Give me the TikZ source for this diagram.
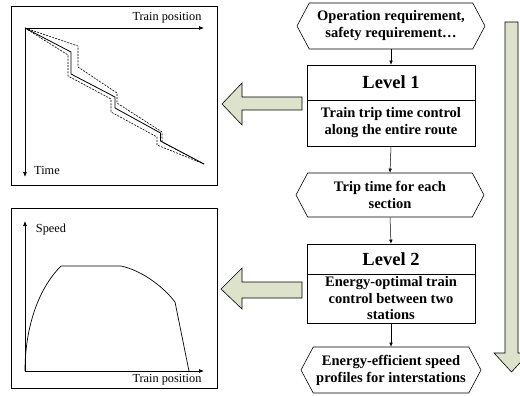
\documentclass[tikz,border=0pt]{standalone}
\usepackage{fontspec}
\setmainfont{Liberation Serif}
\usetikzlibrary{arrows.meta,shapes.symbols}
\definecolor{arrowfill}{RGB}{221,226,203}
\begin{document}
\begin{tikzpicture}[x=1pt,y=-1pt,
  hexbox/.style={draw, line width=0.6pt, signal, signal to=east and west, signal pointer angle=124,
    minimum width=188pt, minimum height=46pt, inner sep=0pt, align=center,
    font=\fontsize{14.5}{17}\selectfont\bfseries},
  lvltop/.style={draw, line width=0.6pt, minimum width=168pt, inner sep=0pt,
    font=\fontsize{18.5}{20}\selectfont\bfseries},
  lvlbot/.style={draw, line width=0.6pt, minimum width=168pt, inner sep=0pt, align=center,
    font=\fontsize{14.5}{17}\selectfont\bfseries},
  panel/.style={draw, line width=0.6pt, inner sep=0pt},
  lbl/.style={inner sep=0pt, font=\fontsize{12.3}{14}\selectfont},
  conn/.style={-{Latex[length=4pt,width=3.5pt]}, line width=0.5pt},
  axis/.style={-{Latex[length=5pt,width=4pt]}, line width=0.7pt},
  bigarrow/.style={draw, line width=0.6pt, fill=arrowfill},
  curve/.style={line width=0.8pt},
  dcurve/.style={line width=0.6pt, dash pattern=on 2pt off 1.2pt}]
\useasboundingbox (0,0) rectangle (520,396);
\begin{scope}
\clip (0,0) rectangle (520,396);
% big vertical arrow
\draw[bigarrow] (505,22) -- (518,22) -- (518,353) -- (529,353) -- (511.5,372) -- (494,353) -- (505,353) -- cycle;
\end{scope}
% flow nodes
\node[hexbox] (h1) at (391,26) {Operation requirement,\\safety requirement\ldots};
\node[lvltop, minimum height=35pt] (l1t) at (391,82.5) {Level 1};
\node[lvlbot, minimum height=46pt] (l1b) at (391,123) {Train trip time control\\along the entire route};
\node[hexbox, minimum height=44pt] (h2) at (390,195) {Trip time for each\\section};
\node[lvltop, minimum height=30pt] (l2t) at (391,259) {Level 2};
\node[lvlbot, minimum height=49pt, font=\fontsize{14.5}{16.5}\selectfont\bfseries] (l2b) at (391,298.5) {Energy-optimal train\\control between two\\stations};
\node[hexbox, minimum width=180pt] (h3) at (391,370) {Energy-efficient speed\\profiles for interstations};
\draw[conn] (h1.south) -- (l1t.north);
\draw[conn] (l1b.south) -- (h2.north);
\draw[conn] (h2.south) -- (l2t.north);
\draw[conn] (l2b.south) -- (h3.north);
% big left arrows
\draw[bigarrow] (302,97) -- (242,97) -- (242,83) -- (222,104) -- (242,125) -- (242,110) -- (302,110) -- cycle;
\draw[bigarrow] (302,282) -- (242,282) -- (242,268) -- (221,289) -- (242,309) -- (242,298) -- (302,298) -- cycle;
% panel 1
\node[panel, minimum width=206pt, minimum height=179pt] (p1) at (114,95.5) {};
\coordinate (o1) at (25,28);
\coordinate (x1) at (204,28);
\coordinate (y1) at (25,177);
\draw[axis] (o1) -- (x1);
\draw[axis] (o1) -- (y1);
\node[lbl] (tp1) at (167,18) {Train position};
\node[lbl] (tm) at (47,170) {Time};
\draw[curve] (o1) -- (71,52) -- (71,74) -- (115,97) -- (115,108) -- (160.5,133) -- (160.5,141) -- (204,164);
\draw[dcurve] (o1) -- (78,46) -- (78,67) -- (117,93) -- (117,103) -- (162,132) -- (162,142) -- (204,164);
\draw[dcurve] (o1) -- (68,55) -- (68,76) -- (111,99) -- (111,112) -- (157,137) -- (157,145) -- (204,164);
% panel 2
\node[panel, minimum width=206pt, minimum height=180pt] (p2) at (114,298) {};
\coordinate (o2) at (25,371);
\coordinate (x2) at (204,371);
\coordinate (y2) at (25,221);
\draw[axis] (o2) -- (x2);
\draw[axis] (o2) -- (y2);
\node[lbl] (sp) at (51,230) {Speed};
\node[lbl] (tp2) at (167,380) {Train position};
\draw[line width=0.7pt] (o2) .. controls (25,330) and (37,290) .. (61,266) -- (121,266)
  .. controls (140,270) and (162,285) .. (175,302) -- (189,371);
\end{tikzpicture}
\end{document}
